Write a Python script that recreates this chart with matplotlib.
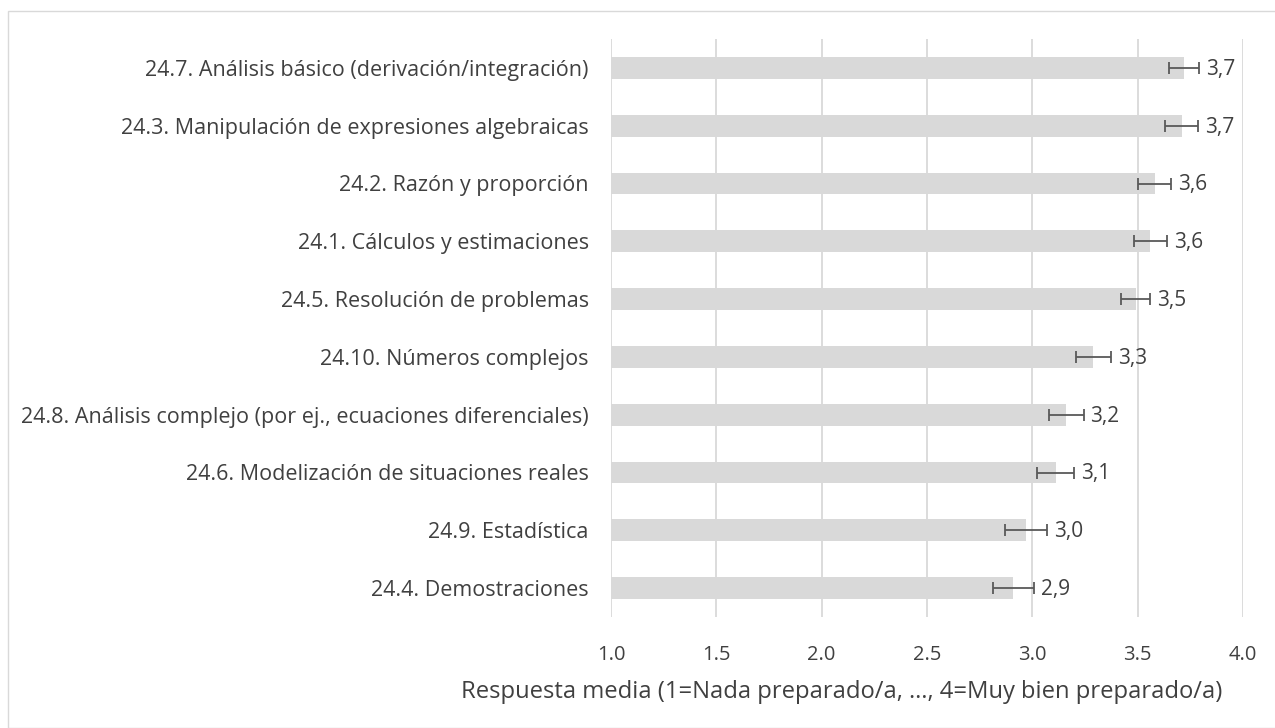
import matplotlib.pyplot as plt
from matplotlib.patches import Rectangle

# data (top to bottom as shown)
labels = [
    "24.7. Análisis básico (derivación/integración)",
    "24.3. Manipulación de expresiones algebraicas",
    "24.2. Razón y proporción",
    "24.1. Cálculos y estimaciones",
    "24.5. Resolución de problemas",
    "24.10. Números complejos",
    "24.8. Análisis complejo (por ej., ecuaciones diferenciales)",
    "24.6. Modelización de situaciones reales",
    "24.9. Estadística",
    "24.4. Demostraciones",
]
means = [3.72, 3.71, 3.58, 3.56, 3.49, 3.29, 3.16, 3.11, 2.97, 2.91]
errors = [0.073, 0.078, 0.080, 0.079, 0.070, 0.083, 0.083, 0.090, 0.100, 0.099]
xticks = [1.0, 1.5, 2.0, 2.5, 3.0, 3.5, 4.0]
xlabel = "Respuesta media (1=Nada preparado/a, …, 4=Muy bien preparado/a)"

plt.rcParams['font.family'] = ['Open Sans', 'DejaVu Sans']
txt = '#404040'

W, H = 1275, 728
fig = plt.figure(figsize=(W / 100, H / 100), dpi=100)
ax = fig.add_axes([611 / W, 1 - 617 / H, (1243 - 611) / W, (617 - 39) / H])

y = list(range(len(labels)))
ax.barh(y, [m - 1.0 for m in means], left=1.0, height=0.38, color='#d9d9d9', zorder=2)
ax.errorbar(means, y, xerr=errors, fmt='none', ecolor='#595959', elinewidth=1.3,
            capsize=4, capthick=1.3, zorder=3)

for yi, m, e in zip(y, means, errors):
    ax.annotate(f"{m:.1f}".replace('.', ','), (m + e, yi), xytext=(5, -1),
                textcoords='offset points', va='center', ha='left',
                fontsize=15, color=txt)

ax.set_xlim(1.0, 4.0)
ax.set_ylim(len(labels) - 0.5, -0.5)
ax.set_xticks(xticks)
ax.set_xticklabels([f"{t:.1f}" for t in xticks])
ax.set_yticks(y)
ax.set_yticklabels(labels)
ax.tick_params(axis='y', length=0, pad=16, labelsize=15.5, labelcolor=txt)
ax.tick_params(axis='x', length=0, pad=20, labelsize=14.5, labelcolor=txt)
ax.grid(axis='x', color='#d9d9d9', linewidth=1.3, zorder=0)
for s in ax.spines.values():
    s.set_visible(False)

fig.text(842 / W, 1 - 692 / H, xlabel, ha='center', va='center', fontsize=17.1, color=txt)

fig.patches.append(Rectangle((8 / W, 0), 1.1, 1 - 11 / H, transform=fig.transFigure,
                             fill=False, edgecolor='#d9d9d9', linewidth=1, figure=fig))

fig.savefig('out.png', dpi=100)
